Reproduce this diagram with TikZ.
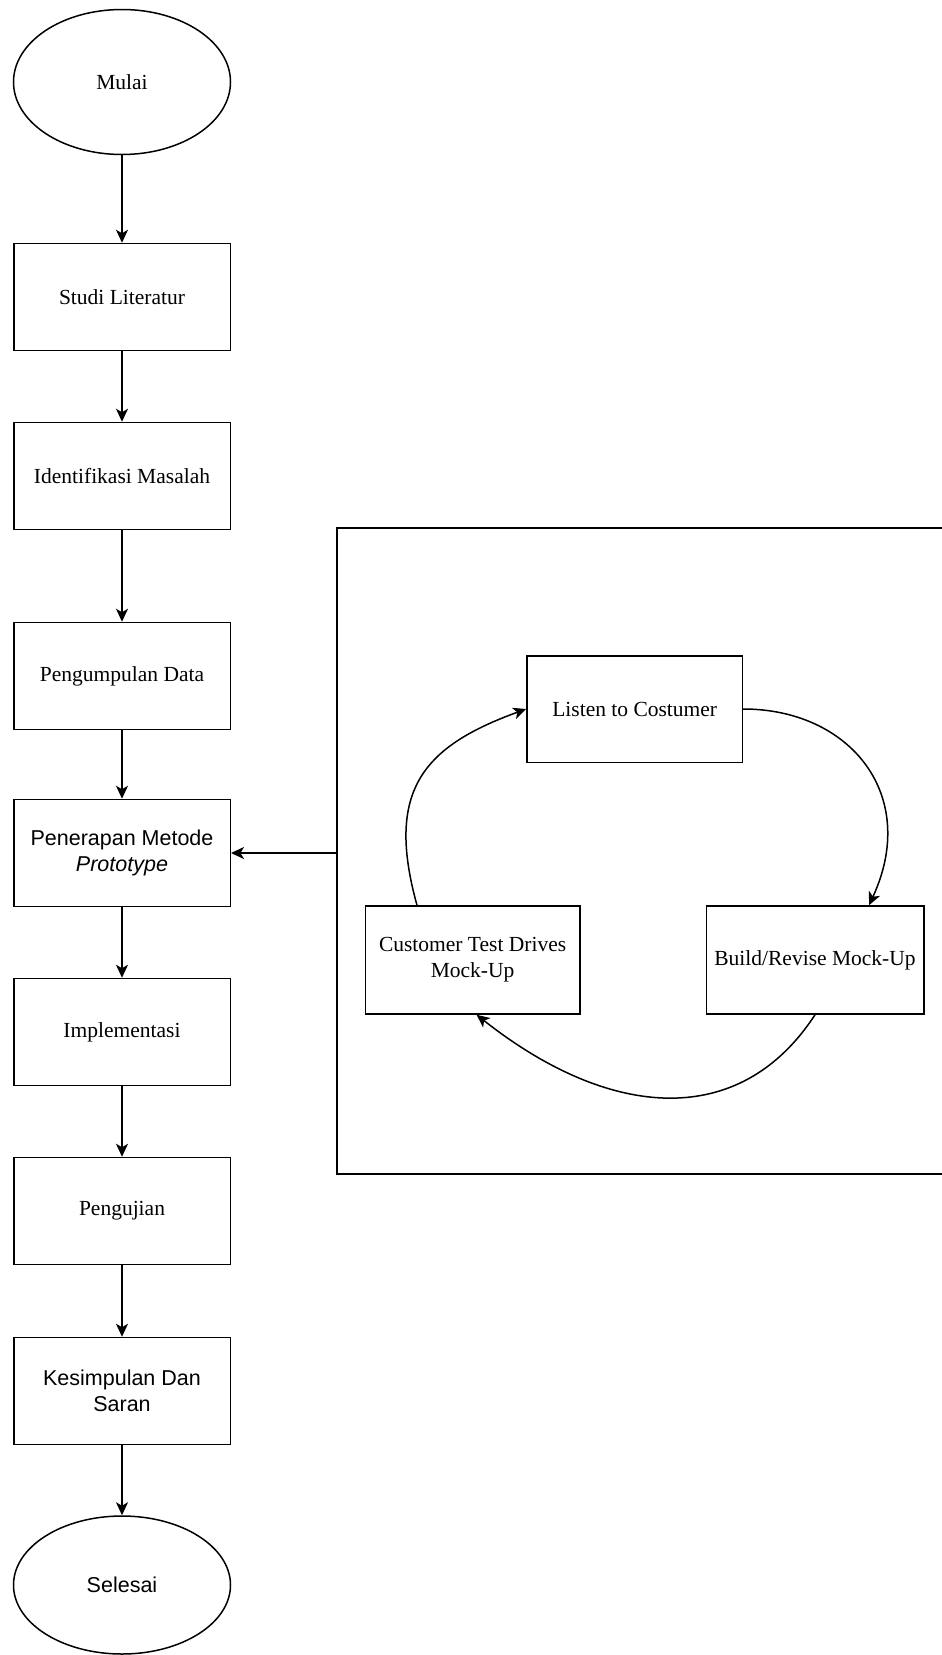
\documentclass[tikz,border=0pt]{standalone}
\usepackage{fontspec}
\setmainfont{Liberation Serif}
\newfontfamily\arialf{Liberation Sans}
\usetikzlibrary{arrows.meta,shapes.geometric,calc}
\begin{document}
\begin{tikzpicture}[x=1pt,y=1pt, line width=1.5pt,
  txt/.style={font=\fontsize{21.5}{26}\selectfont},
  stxt/.style={font=\arialf\fontsize{21.5}{26}\selectfont},
  box/.style={draw, rectangle, minimum width=216.5pt, minimum height=107pt, inner sep=0pt, align=center},
  oval/.style={draw, ellipse, minimum width=217pt, minimum height=145pt, inner sep=0pt, align=center},
  arr/.style={-{Stealth[length=13pt,width=12pt,inset=3.5pt]}}]
\useasboundingbox (0,0) rectangle (942,-1655);

% main flow
\node[oval, txt] (mulai) at (122,-82) {Mulai};
\node[box, txt] (studi) at (122,-297) {Studi Literatur};
\node[box, txt] (ident) at (122,-476) {Identifikasi Masalah};
\node[box, txt] (kumpul) at (122,-676) {Pengumpulan Data};
\node[box, stxt] (pen) at (122,-853) {Penerapan Metode\\\textit{Prototype}};
\node[box, txt] (impl) at (122,-1032) {Implementasi};
\node[box, txt] (uji) at (122,-1211) {Pengujian};
\node[box, stxt] (kes) at (122,-1391) {Kesimpulan Dan\\Saran};
\node[oval, stxt, minimum height=138pt] (selesai) at (122,-1585) {Selesai};

\draw[arr] (mulai) -- (studi);
\draw[arr] (studi) -- (ident);
\draw[arr] (ident) -- (kumpul);
\draw[arr] (kumpul) -- (pen);
\draw[arr] (pen) -- (impl);
\draw[arr] (impl) -- (uji);
\draw[arr] (uji) -- (kes);
\draw[arr] (kes) -- (selesai);

% prototype frame (open to the right edge)
\draw (942,-528) -- (337,-528) -- (337,-1174) -- (942,-1174);
\coordinate (frameleft) at (337,-853);
\draw[arr] (frameleft) -- (pen.east);

% prototype cycle
\node[box, txt, minimum width=215.5pt, minimum height=106.5pt] (listen) at (634.7,-709) {Listen to Costumer};
\node[box, txt, minimum width=214.5pt, minimum height=108pt] (cust) at (472.6,-960) {Customer Test Drives\\Mock-Up};
\node[box, txt, minimum width=217.5pt, minimum height=108pt] (build) at (815,-960) {Build/Revise Mock-Up};

\draw[arr] (listen.east) .. controls (850,-709) and (920,-795) .. ([xshift=54pt]build.north);
\draw[arr] (build.south) .. controls (740,-1130) and (610,-1120) .. ([xshift=4pt]cust.south);
\draw[arr] ([xshift=-55.6pt]cust.north) .. controls (385,-790) and (423.6,-746.4) .. (listen.west);
\end{tikzpicture}
\end{document}
